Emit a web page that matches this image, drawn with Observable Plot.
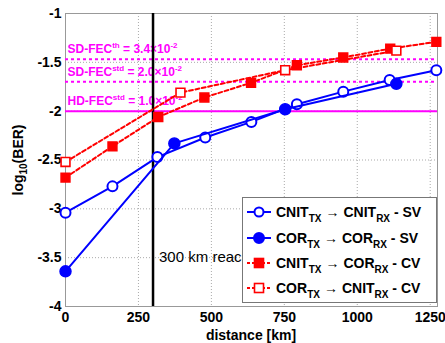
<!DOCTYPE html>
<html><head><meta charset="utf-8">
<script src="https://cdn.jsdelivr.net/npm/d3@7"></script>
<script src="https://cdn.jsdelivr.net/npm/@observablehq/plot@0.6"></script>
<style>
body{margin:0;background:#fff;}
#wrap{position:relative;width:445px;height:343px;font-family:"Liberation Sans",Arial,sans-serif;}
#legend{position:absolute;left:242px;top:197px;width:195px;height:106px;background:#fff;border:1px solid #777;box-sizing:border-box;}
.row{position:absolute;left:0;height:20px;display:flex;align-items:center;font-weight:bold;font-size:14px;white-space:nowrap;color:#000}
.row svg{margin-left:4px;margin-right:5px;flex:none}
.row sub{font-size:10px;vertical-align:-5px;line-height:0}
.row .ar{font-weight:normal;margin:0 4px}
</style></head>
<body><div id="wrap"></div>
<script>
// ---- data ----
const xTicks = [0, 250, 500, 750, 1000, 1250];
const yTicks = [-4, -3.5, -3, -2.5, -2, -1.5, -1];

const distCnitSV = [0, 161, 315, 479, 637, 793, 952, 1111, 1271];
const berCnitSV  = [-3.04, -2.77, -2.47, -2.27, -2.11, -1.93, -1.80, -1.68, -1.58];

const distCorSV = [0, 373, 753, 1134];
const berCorSV  = [-3.64, -2.33, -1.98, -1.72];

const distCnitCorCV = [0, 161, 318, 476, 636, 793, 952, 1113, 1271];
const berCnitCorCV  = [-2.68, -2.36, -2.06, -1.86, -1.71, -1.53, -1.45, -1.36, -1.29];

const distCorCnitCV = [0, 394, 753, 1134];
const berCorCnitCV  = [-2.52, -1.81, -1.58, -1.38];

const fecBER    = [3.4e-2, 2.0e-2, 1.0e-2];
const fecLabels = ["SD-FEC^{th} = 3.4×10^{-2}", "SD-FEC^{std} = 2.0×10^{-2}", "HD-FEC^{std} = 1.0×10^{-2}"];
const reachKm = [300];
const reachLabel = ["300 km reach"];

const seriesNames = [
  ["CNIT", "CNIT", "SV"],
  ["COR", "COR", "SV"],
  ["CNIT", "COR", "CV"],
  ["COR", "CNIT", "CV"]
];

// ---- build tables ----
const toRows = (xs, ys) => xs.map((d, i) => ({d, b: ys[i]}));
const cnitSV = toRows(distCnitSV, berCnitSV);
const corSV = toRows(distCorSV, berCorSV);
const cnitCorCV = toRows(distCnitCorCV, berCnitCorCV);
const corCnitCV = toRows(distCorCnitCV, berCorCnitCV);
const fec = fecBER.map((v, i) => ({y: Math.log10(v), label: fecLabels[i]}));
const fecDashed = fec.slice(0, 2);
const fecSolid = fec.slice(2);

const BLUE = "#0000ff", RED = "#ff0000", MAG = "#ff00ff";
const FONT = '"Liberation Sans", Arial, sans-serif';

const plot = Plot.plot({
  width: 445, height: 343,
  marginLeft: 65, marginRight: 8, marginTop: 13, marginBottom: 37,
  x: {domain: [0, 1275]},
  y: {domain: [-4, -1]},
  style: {fontFamily: FONT, fontSize: "14px", fontWeight: "bold", background: "#fff", color: "#000", overflow: "visible"},
  marks: [
    Plot.gridX(xTicks, {stroke: "#aaa", strokeOpacity: 1, strokeDasharray: "1,2"}),
    Plot.gridY(yTicks, {stroke: "#aaa", strokeOpacity: 1, strokeDasharray: "1,2"}),
    Plot.frame({stroke: "#999"}),
    Plot.axisX(xTicks, {tickSize: 0, tickPadding: 6, label: null, tickFormat: d => String(d), fontSize: 14, fontWeight: "bold"}),
    Plot.axisY(yTicks, {tickSize: 0, tickPadding: 4, label: null, tickFormat: d => String(d), fontSize: 14, fontWeight: "bold"}),
    Plot.ruleY(fecDashed, {y: "y", stroke: MAG, strokeWidth: 2, strokeDasharray: "3,3"}),
    Plot.ruleY(fecSolid, {y: "y", stroke: MAG, strokeWidth: 2}),
    Plot.text(fec, {x: 0, y: "y", text: "label", textAnchor: "start", dx: 2, dy: -10, fill: MAG, fontSize: 12, fontWeight: "bold"}),
    Plot.ruleX(reachKm, {x: d => d, stroke: "#000", strokeWidth: 2.5}),
    Plot.text(reachLabel, {x: reachKm[0], y: -3.5, text: d => d, textAnchor: "start", dx: 6, fontSize: 15, fontWeight: "normal", fill: "#000"}),
    // CNIT -> CNIT SV
    Plot.line(cnitSV, {x: "d", y: "b", stroke: BLUE, strokeWidth: 2}),
    Plot.dot(cnitSV, {x: "d", y: "b", r: 5, stroke: BLUE, strokeWidth: 2, fill: "white"}),
    // COR -> COR SV
    Plot.line(corSV, {x: "d", y: "b", stroke: BLUE, strokeWidth: 2}),
    Plot.dot(corSV, {x: "d", y: "b", r: 5.5, fill: BLUE, stroke: BLUE}),
    // CNIT -> COR CV
    Plot.line(cnitCorCV, {x: "d", y: "b", stroke: RED, strokeWidth: 2, strokeDasharray: "4,2.5"}),
    Plot.dot(cnitCorCV, {x: "d", y: "b", symbol: "square", r: 5, fill: RED, stroke: RED}),
    // COR -> CNIT CV
    Plot.line(corCnitCV, {x: "d", y: "b", stroke: RED, strokeWidth: 2, strokeDasharray: "4,2.5"}),
    Plot.dot(corCnitCV, {x: "d", y: "b", symbol: "square", r: 5, fill: "white", stroke: RED, strokeWidth: 1.6})
  ]
});

// rich text helper: ^{..} superscript, _{..} subscript
function richText(el, markup, size) {
  while (el.firstChild) el.removeChild(el.firstChild);
  const parts = markup.match(/(\^\{[^}]*\}|_\{[^}]*\}|[^^_]+)/g);
  let shift = 0;
  const small = Math.round(size * 0.7);
  for (const p of parts) {
    const t = document.createElementNS("http://www.w3.org/2000/svg", "tspan");
    let target = 0, txt = p, fs = null;
    if (p.startsWith("^{")) { target = -size * 0.42; txt = p.slice(2, -1); fs = small; }
    else if (p.startsWith("_{")) { target = size * 0.3; txt = p.slice(2, -1); fs = small; }
    t.setAttribute("dy", String(target - shift));
    shift = target;
    if (fs) t.setAttribute("font-size", fs);
    t.textContent = txt;
    el.appendChild(t);
  }
}

const svg = d3.select(plot);
svg.selectAll("text").each(function() {
  const idx = fecLabels.indexOf(this.textContent);
  if (idx >= 0) richText(this, fecLabels[idx], 12);
});

// axis labels
svg.append("text")
  .attr("x", 251).attr("y", 340)
  .attr("text-anchor", "middle")
  .attr("font-size", 14).attr("font-weight", "bold").attr("fill", "#000")
  .text("distance [km]");
const yl = svg.append("text")
  .attr("transform", "translate(23,160) rotate(-90)")
  .attr("text-anchor", "middle")
  .attr("font-size", 14).attr("font-weight", "bold").attr("fill", "#000");
richText(yl.node(), "log_{10}(BER)", 14);

const wrap = document.getElementById("wrap");
wrap.appendChild(plot);

// legend
const legend = document.createElement("div");
legend.id = "legend";
const styles = [
  {stroke: BLUE, dash: null, shape: "circle", fill: "white"},
  {stroke: BLUE, dash: null, shape: "circle", fill: BLUE},
  {stroke: RED, dash: "3,2", shape: "square", fill: RED},
  {stroke: RED, dash: "3,2", shape: "square", fill: "white"}
];
const rowTops = [4, 30, 55, 80];
seriesNames.forEach((n, i) => {
  const s = styles[i];
  const row = document.createElement("div");
  row.className = "row";
  row.style.top = rowTops[i] + "px";
  const marker = s.shape === "circle"
    ? `<circle cx="12" cy="8" r="${s.fill === "white" ? 4.5 : 5}" fill="${s.fill}" stroke="${s.stroke}" stroke-width="2"/>`
    : `<rect x="7.5" y="3.5" width="9" height="9" fill="${s.fill}" stroke="${s.stroke}" stroke-width="1.6"/>`;
  row.innerHTML = `<svg width="24" height="16"><line x1="0" x2="24" y1="8" y2="8" stroke="${s.stroke}" stroke-width="2" ${s.dash ? `stroke-dasharray="${s.dash}"` : ""}/>${marker}</svg>` +
    `<span>${n[0]}<sub>TX</sub><span class="ar">→</span>${n[1]}<sub>RX</sub> - ${n[2]}</span>`;
  legend.appendChild(row);
});
wrap.appendChild(legend);
</script>
</body></html>
